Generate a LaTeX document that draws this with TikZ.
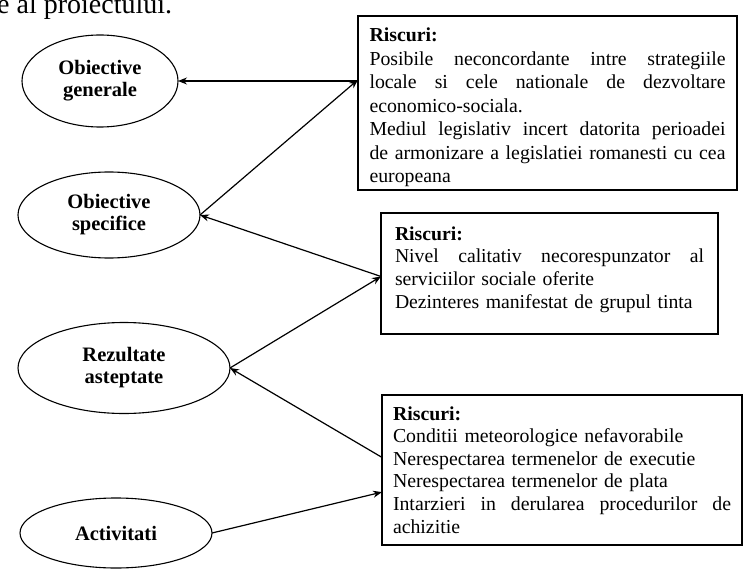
\documentclass[tikz,border=0pt]{standalone}
\usepackage{fontspec}
\setmainfont{Liberation Serif}
\usetikzlibrary{shapes.geometric,arrows.meta}
\tikzset{
  goal/.style={draw, ellipse, line width=1.1bp, inner sep=0pt, outer sep=0pt, align=center,
    font=\fontsize{20.5bp}{22bp}\selectfont\bfseries},
  riskbox/.style={draw, rectangle, line width=1.3bp, outer sep=0pt, align=left, anchor=north west, inner ysep=0pt},
  link/.style={line width=1.2bp, -{Stealth[length=9bp,width=7bp]}},
}
\newcommand{\padtop}[1]{\rule{0pt}{#1}}
\newcommand{\padbot}[1]{\rule[-#1]{0pt}{#1}}
\newcommand{\jline}[2]{\leavevmode\hbox to #1{#2}}
\begin{document}
\begin{tikzpicture}[x=1bp,y=-1bp]
\useasboundingbox (0,0) rectangle (744,569);
\node[anchor=base west, inner sep=0pt, font=\fontsize{28bp}{30bp}\selectfont] (top) at (-3,14) {e al proiectului.};

\node[goal, minimum width=156bp, minimum height=92bp] (e1) at (100,81) {Obiective\\generale};
\node[goal, minimum width=182bp, minimum height=86bp] (e2) at (109,215) {Obiective\\specifice};
\node[goal, minimum width=212bp, minimum height=91bp] (e3) at (124,368) {Rezultate\\asteptate};
\node[goal, minimum width=192bp, minimum height=70bp] (e4) at (116,533) {Activitati};

\node[riskbox, text width=356bp, inner xsep=11.5bp,
  font=\fontsize{19.8bp}{23.5bp}\selectfont] (b1) at (358,16) {%
\padtop{26bp}\textbf{Riscuri:}\\
\jline{356bp}{Posibile\hfill neconcordante\hfill intre\hfill strategiile}\\
\jline{356bp}{locale\hfill si\hfill cele\hfill nationale\hfill de\hfill dezvoltare}\\
economico-sociala.\\
\jline{356bp}{Mediul\hfill legislativ\hfill incert\hfill datorita\hfill perioadei}\\
\jline{356bp}{de\hfill armonizare\hfill a\hfill legislatiei\hfill romanesti\hfill cu\hfill cea}\\
europeana\padbot{7bp}};

\node[riskbox, text width=309bp, inner xsep=14bp,
  font=\fontsize{19.7bp}{22.7bp}\selectfont] (b2) at (381,213) {%
\padtop{27bp}\textbf{Riscuri:}\\
\jline{309bp}{Nivel\hfill calitativ\hfill necorespunzator\hfill al}\\
serviciilor sociale oferite\\
Dezinteres manifestat de grupul tinta\padbot{26bp}};

\node[riskbox, text width=338bp, inner xsep=11bp,
  font=\fontsize{19.8bp}{22.6bp}\selectfont] (b3) at (382,395) {%
\padtop{25bp}\textbf{Riscuri:}\\
Conditii meteorologice nefavorabile\\
Nerespectarea termenelor de executie\\
Nerespectarea termenelor de plata\\
\jline{338bp}{Intarzieri\hfill in\hfill derularea\hfill procedurilor\hfill de}\\
achizitie\padbot{12bp}};

\draw[link] (e1.east -| b1.west) -- (e1.east);
\draw[link] (e2.east) -- (b1.173.7);
\draw[link] (b2.181) -- (e2.east);
\draw[link] (e3.east) -- (b2.181);
\draw[link] (b3.176) -- (e3.east);
\draw[link] (e4.east) -- (b3.187);
\end{tikzpicture}
\end{document}
